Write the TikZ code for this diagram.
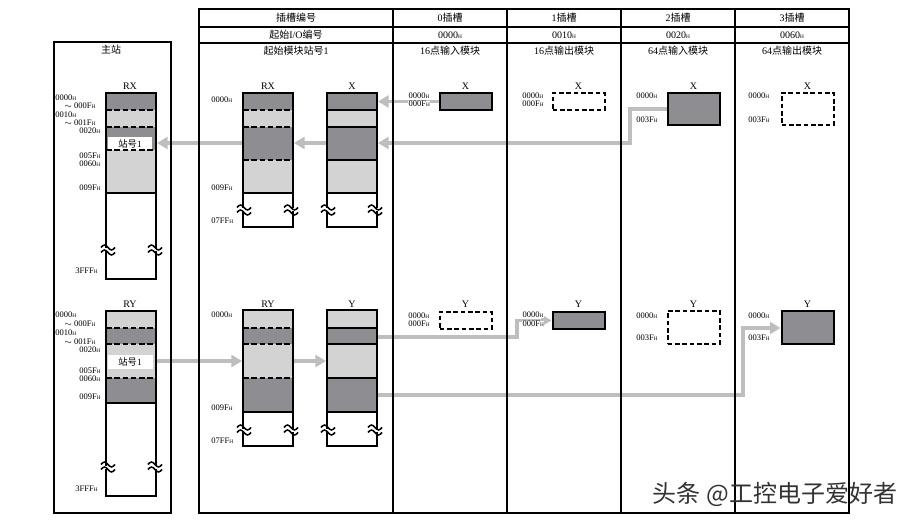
\documentclass[tikz,border=0pt]{standalone}
\usepackage{fontspec}
\setmainfont{Liberation Serif}
\newfontfamily\cjk{Noto Sans CJK SC}
\usetikzlibrary{arrows.meta}
\definecolor{dk}{RGB}{142,142,146}
\definecolor{lt}{RGB}{211,211,211}
\definecolor{ag}{RGB}{190,190,190}
\definecolor{wm}{RGB}{50,50,50}
\newcommand\hx[1]{#1{\fontsize{4}{4}\selectfont H}}
\tikzset{
  frm/.style={line width=1.5pt},
  tbl/.style={line width=1.3pt},
  dsh/.style={line width=1.4pt, dash pattern=on 4.2pt off 2pt},
  sol/.style={line width=1.5pt},
  arr/.style={draw=ag, line width=2.6pt, -{Triangle[length=8pt,width=9pt]}},
  hdr/.style={font=\fontsize{7.5}{8}\selectfont, inner sep=0pt},
  lbl/.style={font=\fontsize{6.4}{6.4}\selectfont, inner sep=0pt, anchor=west},
  wlbl/.style={lbl, fill=white, inner sep=0.3pt},
  col/.style={draw, line width=1.5pt, inner sep=0pt, minimum width=37.5pt},
  sbox/.style={draw, line width=1.5pt, fill=dk, inner sep=0pt, minimum width=39pt},
  dbox/.style={draw, line width=1.5pt, dash pattern=on 3.5pt off 2pt, inner sep=0pt, minimum width=39pt},
  brk/.pic={
    \fill[white] (-7,-1.5) rectangle (7,1.5);
    \draw[line width=1.1pt] (-7,-2.5) sin (-3.5,-5) cos (0,-2.5) sin (3.5,0) cos (7,-2.5);
    \draw[line width=1.1pt] (-7,2.5) sin (-3.5,0) cos (0,2.5) sin (3.5,5) cos (7,2.5);
  }
}
\begin{document}
\begin{tikzpicture}[x=0.75pt,y=-0.75pt]
\useasboundingbox (0,0) rectangle (909,523);

% ===== master station =====
\node[hdr] (mtitle) at (111,50) {\cjk 主站};
% RX
\fill[dk] (106,93) rectangle (156,110);
\fill[lt] (106,110) rectangle (156,127);
\fill[dk] (106,127) rectangle (156,150);
\fill[lt] (106,150) rectangle (156,193);
\fill[white] (108,137) rectangle (152,150);
\node[hdr, font=\fontsize{7}{7}\selectfont] (mst1) at (130,143.5) {{\cjk 站号}1};
\draw[dsh] (106,110) -- (156,110);
\draw[dsh] (106,127) -- (156,127);
\draw[dsh] (106,150) -- (156,150);
\draw[sol] (106,193) -- (156,193);
\node[col, minimum height=139.5pt] (mrx) at (131,186) {};
\node[hdr] (mrxl) at (130,86) {RX};
\pic at (108,250) {brk};
\pic at (155,250) {brk};
\node[lbl] (m1) at (55,98) {\hx{0000}};
\node[lbl] (m2) at (64,106) {$\sim$\ \hx{000F}};
\node[lbl] (m3) at (55,115) {\hx{0010}};
\node[lbl] (m4) at (64,123) {$\sim$\ \hx{001F}};
\node[lbl] (m5) at (79,131) {\hx{0020}};
\node[lbl] (m6) at (79,156) {\hx{005F}};
\node[lbl] (m7) at (79,164) {\hx{0060}};
\node[lbl] (m8) at (79,188) {\hx{009F}};
\node[lbl] (m9) at (75,271) {\hx{3FFF}};
% RY
\fill[lt] (106,311) rectangle (156,328);
\fill[dk] (106,328) rectangle (156,344);
\fill[lt] (106,344) rectangle (156,378);
\fill[dk] (106,378) rectangle (156,403);
\fill[white] (108,355) rectangle (153,369);
\node[hdr, font=\fontsize{7}{7}\selectfont] (mst2) at (130,362) {{\cjk 站号}1};
\draw[dsh] (106,328) -- (156,328);
\draw[dsh] (106,344) -- (156,344);
\draw[dsh] (106,378) -- (156,378);
\draw[sol] (106,403) -- (156,403);
\node[col, minimum height=138.75pt] (mry) at (131,403.5) {};
\node[hdr] (mryl) at (130,304) {RY};
\pic at (108,467) {brk};
\pic at (155,467) {brk};
\node[lbl] (n1) at (55,315) {\hx{0000}};
\node[lbl] (n2) at (64,324) {$\sim$\ \hx{000F}};
\node[lbl] (n3) at (55,333) {\hx{0010}};
\node[lbl] (n4) at (64,342) {$\sim$\ \hx{001F}};
\node[lbl] (n5) at (79,350) {\hx{0020}};
\node[lbl] (n6) at (79,371) {\hx{005F}};
\node[lbl] (n7) at (79,379) {\hx{0060}};
\node[lbl] (n8) at (79,397) {\hx{009F}};
\node[lbl] (n9) at (75,489) {\hx{3FFF}};

% ===== middle RX / X =====
\fill[dk] (243,93) rectangle (293,110);
\fill[lt] (243,110) rectangle (293,127);
\fill[dk] (243,127) rectangle (293,160);
\fill[lt] (243,160) rectangle (293,193);
\draw[dsh] (243,110) -- (293,110);
\draw[dsh] (243,127) -- (293,127);
\draw[dsh] (243,160) -- (293,160);
\draw[sol] (243,193) -- (293,193);
\node[col, minimum height=100.5pt] (rxc) at (268,160) {};
\node[hdr] (rxl) at (268,86) {RX};
\fill[dk] (327,93) rectangle (377,110);
\fill[lt] (327,110) rectangle (377,127);
\fill[dk] (327,127) rectangle (377,160);
\fill[lt] (327,160) rectangle (377,193);
\draw[sol] (327,110) -- (377,110);
\draw[sol] (327,127) -- (377,127);
\draw[sol] (327,160) -- (377,160);
\draw[sol] (327,193) -- (377,193);
\node[col, minimum height=100.5pt] (xc) at (352,160) {};
\node[hdr] (xl) at (352,86) {X};
\pic at (244,210) {brk};
\pic at (291,210) {brk};
\pic at (328,210) {brk};
\pic at (375,210) {brk};
\node[lbl] (a1) at (211,100) {\hx{0000}};
\node[lbl] (a2) at (211,188) {\hx{009F}};
\node[lbl] (a3) at (211,221) {\hx{07FF}};

% ===== middle RY / Y =====
\fill[lt] (243,310) rectangle (293,328);
\fill[dk] (243,328) rectangle (293,344);
\fill[lt] (243,344) rectangle (293,378);
\fill[dk] (243,378) rectangle (293,412);
\draw[dsh] (243,328) -- (293,328);
\draw[dsh] (243,344) -- (293,344);
\draw[dsh] (243,378) -- (293,378);
\draw[sol] (243,412) -- (293,412);
\node[col, minimum height=102pt] (ryc) at (268,378) {};
\node[hdr] (ryl) at (268,304) {RY};
\fill[lt] (327,310) rectangle (377,328);
\fill[dk] (327,328) rectangle (377,344);
\fill[lt] (327,344) rectangle (377,378);
\fill[dk] (327,378) rectangle (377,412);
\draw[sol] (327,328) -- (377,328);
\draw[sol] (327,344) -- (377,344);
\draw[sol] (327,378) -- (377,378);
\draw[sol] (327,412) -- (377,412);
\node[col, minimum height=102pt] (yc) at (352,378) {};
\node[hdr] (yl) at (352,304) {Y};
\pic at (244,430) {brk};
\pic at (291,430) {brk};
\pic at (328,430) {brk};
\pic at (375,430) {brk};
\node[lbl] (b1) at (211,315) {\hx{0000}};
\node[lbl] (b2) at (211,408) {\hx{009F}};
\node[lbl] (b3) at (211,441) {\hx{07FF}};

% ===== modules =====
\node[sbox, minimum height=12.75pt] (s0x) at (465.5,101.5) {};
\node[dbox, minimum height=12.75pt] (s1x) at (578.5,101.5) {};
\node[sbox, minimum height=24pt] (s2x) at (693.5,109) {};
\node[dbox, minimum height=24pt] (s3x) at (807.5,109) {};
\node[dbox, minimum height=12.75pt] (s0y) at (465.5,320.5) {};
\node[sbox, minimum height=12.75pt] (s1y) at (578.5,320.5) {};
\node[dbox, minimum height=24.75pt] (s2y) at (693.5,327.5) {};
\node[sbox, minimum height=24.75pt] (s3y) at (807.5,328) {};
\foreach \n/\xx in {s0x/465.5,s1x/578.5,s2x/693.5,s3x/807.5}
  \node[hdr] (\n l) at (\xx,86) {X};
\foreach \n/\xx in {s0y/465.5,s1y/578.5,s2y/693.5,s3y/807.5}
  \node[hdr] (\n l) at (\xx,304) {Y};

% ===== arrows =====
\coordinate (j2) at (630,143);
\coordinate (lv2) at (0,361);
\coordinate (j7) at (517,337);
\coordinate (j8) at (743,395);
\draw[arr] (s0x.west) -- (xc.east |- s0x.west);
\draw[arr] (s2x.west) -| (j2) -- (xc.east |- j2);
\draw[arr] (xc.west |- j2) -- (rxc.east |- j2);
\draw[arr] (rxc.west |- j2) -- (mrx.east |- j2);
\draw[arr] (mry.east |- lv2) -- (ryc.west |- lv2);
\draw[arr] (ryc.east |- lv2) -- (yc.west |- lv2);
\draw[arr] (yc.east |- j7) -- (j7) |- (s1y.west);
\draw[arr] (yc.east |- j8) -- (j8) |- (s3y.west);

% module address labels
\node[wlbl] (c1) at (408,96) {\hx{0000}};
\node[wlbl] (c2) at (408,104) {\hx{000F}};
\node[lbl] (c3) at (522,96) {\hx{0000}};
\node[lbl] (c4) at (522,104) {\hx{000F}};
\node[lbl] (c5) at (636,96) {\hx{0000}};
\node[lbl] (c6) at (636,120) {\hx{003F}};
\node[lbl] (c7) at (748,96) {\hx{0000}};
\node[lbl] (c8) at (748,120) {\hx{003F}};
\node[lbl] (d1) at (408,316) {\hx{0000}};
\node[lbl] (d2) at (408,324) {\hx{000F}};
\node[wlbl] (d3) at (522,315) {\hx{0000}};
\node[wlbl] (d4) at (522,324) {\hx{000F}};
\node[lbl] (d5) at (636,316) {\hx{0000}};
\node[lbl] (d6) at (636,338) {\hx{003F}};
\node[lbl] (d7) at (748,316) {\hx{0000}};
\node[lbl] (d8) at (748,338) {\hx{003F}};

% ===== frames / table =====
\draw[frm] (54,42) rectangle (171,513);
\draw[frm] (199,9) rectangle (849,513);
\draw[tbl] (199,27) -- (849,27);
\draw[tbl] (199,43) -- (849,43);
\foreach \xx in {393,507,621,735} \draw[frm] (\xx,9) -- (\xx,513);
\node[hdr] (h11) at (296,18) {\cjk 插槽编号};
\node[hdr] (h12) at (450,18) {0{\cjk 插槽}};
\node[hdr] (h13) at (564,18) {1{\cjk 插槽}};
\node[hdr] (h14) at (678,18) {2{\cjk 插槽}};
\node[hdr] (h15) at (792,18) {3{\cjk 插槽}};
\node[hdr] (h21) at (296,35) {{\cjk 起始}I/O{\cjk 编号}};
\node[hdr] (h22) at (450,35) {\hx{0000}};
\node[hdr] (h23) at (564,35) {\hx{0010}};
\node[hdr] (h24) at (678,35) {\hx{0020}};
\node[hdr] (h25) at (792,35) {\hx{0060}};
\node[hdr] (h31) at (296,51) {{\cjk 起始模块站号}1};
\node[hdr] (h32) at (450,51) {16{\cjk 点输入模块}};
\node[hdr] (h33) at (564,51) {16{\cjk 点输出模块}};
\node[hdr] (h34) at (678,51) {64{\cjk 点输入模块}};
\node[hdr] (h35) at (792,51) {64{\cjk 点输出模块}};

% watermark
\node[inner sep=0pt, text=wm, font=\cjk\fontsize{18}{18}\selectfont] (wmk) at (775,494) {头条 @工控电子爱好者};
\end{tikzpicture}
\end{document}
